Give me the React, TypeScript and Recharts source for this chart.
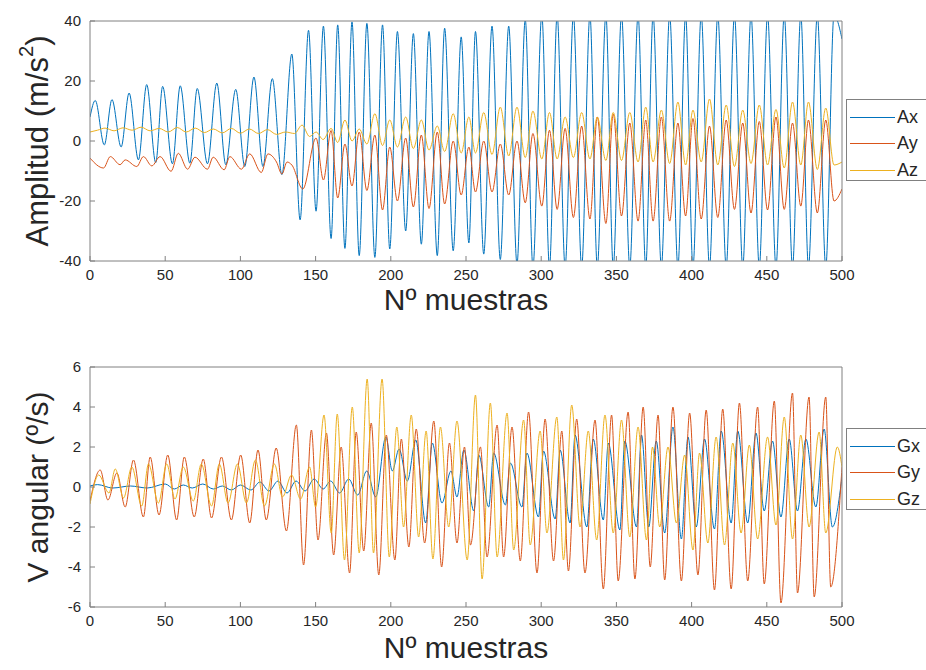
import { LineChart, Line, XAxis, YAxis } from "recharts";

type Pt = [number, number];

const sampleTicks = [0, 50, 100, 150, 200, 250, 300, 350, 400, 450, 500];
const accTicks = [-40, -20, 0, 20, 40];
const gyroTicks = [-6, -4, -2, 0, 2, 4, 6];

// acelerometro: [muestra, valor] en picos y valles
const axPts: Pt[] = [
  [0, 8], [3.5, 13.5], [9.5, -1.3], [14.6, 13.8], [20.7, -2], [26, 16], [32.2, -6.3], [37.7, 18.8],
  [43.7, -7.2], [48.3, 18.2], [54.8, -7.6], [60, 18.4], [66.4, -7.4], [71.3, 17.5], [78.1, -7.6],
  [84.3, 19.3], [90.3, -7.9], [96.9, 17.2], [102.9, -8.5], [109, 21.3], [115, -8.5], [121.2, 20.8],
  [127.6, -11.2], [134.2, 29], [139.7, -26.3], [145.3, 36.9], [150.3, -23.4], [155.2, 38.3],
  [160.3, -32.5], [164.7, 38.7], [169.5, -35.8], [174.2, 39.7], [179, -38.2], [184.1, 39.2],
  [189.4, -38.8], [194.5, 38.7], [199.3, -36], [204.4, 36.5], [209.9, -30], [215, 35.8],
  [220.3, -34.4], [225.4, 36.5], [230.9, -38.2], [235.8, 37.6], [241.5, -36.6], [246.8, 34.7],
  [251.9, -34], [256.3, 36.5], [261.8, -37.7], [267.3, 38.3], [272.8, -39.5], [278.4, 38.3],
  [283.9, -41], [289.4, 40.5], [294.5, -42], [300.4, 42], [305.5, -42], [310.6, 42], [315.9, -42],
  [321.4, 42], [326.9, -42], [332.4, 42], [337.3, -42], [343, 42], [347.9, -42], [353.4, 42],
  [358.9, -42], [364.4, 42], [369.5, -42], [374.4, 42], [379.9, -42], [385.4, 42], [390.9, -42],
  [396, 42], [400.9, -42], [406.4, 42], [411.9, -42], [417.4, 42], [423, -42], [428.5, 42],
  [434, -42], [439.5, 42], [445, -42], [450.5, 42], [456.1, -42], [461.6, 42], [467.1, -42],
  [472.6, 42], [477.7, -42], [483.6, 42], [489.2, -42], [494.7, 42], [500, 34],
];

const ayPts: Pt[] = [
  [0, -5.7], [9, -9], [13.5, -5.2], [20, -7.9], [23.4, -6.3], [31.1, -8.5], [35.5, -5.2],
  [41.1, -8.3], [46.6, -5.2], [53.9, -10.1], [58.7, -4.1], [64.9, -9.4], [69.8, -5.4], [78.1, -9.4],
  [81.9, -5.4], [89.2, -9.6], [93, -5.2], [100.7, -9.4], [106.2, -4.3], [113.9, -10.5], [118.3, -4.3],
  [124, -7], [127.6, -11], [131, -7], [134.2, -8], [141.5, -16], [150.3, 1], [155.2, -13],
  [160.3, 3.5], [164.7, -19], [169.5, -1], [174.2, -15], [179, 3], [184.1, -16.5], [189.4, 2],
  [194.5, -23], [199.3, -2], [204.4, -20], [209.9, 1], [215, -22], [220.3, 2], [225.4, -22.5],
  [230.9, 3], [235.8, -21], [241.5, 0], [246.8, -18], [251.9, -2], [256.3, -17], [261.8, 0],
  [267.3, -17], [272.8, -1], [278.4, -18], [283.9, 0], [289.4, -20.6], [294.5, 2.5], [300.4, -21.7],
  [305.5, 3.6], [310.6, -22.8], [315.9, 4.2], [321.4, -25.5], [326.9, 5], [332.4, -26], [337.3, 8],
  [343, -27.5], [347.9, 9], [353.4, -25], [358.9, 6], [364.4, -26.7], [369.5, 7], [374.4, -26.7],
  [379.9, 8], [385.4, -26.7], [390.9, 6], [396, -25], [400.9, 7.5], [406.4, -26], [411.9, 5],
  [417.4, -25.5], [423, 7], [428.5, -22.8], [434, 6], [439.5, -24], [445, 6.5], [450.5, -23],
  [456.1, 8], [461.6, -22.8], [467.1, 6], [472.6, -21.7], [477.7, 7], [483.6, -24], [489.2, 7],
  [494.7, -20], [500, -16],
];

const azPts: Pt[] = [
  [0, 3], [5, 3.6], [10, 4.3], [16, 3.4], [22, 4.4], [28, 3.6], [34, 4.6], [40, 3.4], [46, 4.2],
  [52, 3], [58, 4.5], [64, 3], [70, 4.3], [76, 2.8], [82, 4], [88, 2.7], [94, 4.2], [100, 2.6],
  [106, 4], [112, 2.5], [118, 3.8], [124, 2.2], [130, 3], [136, 2.5], [141, 5.3], [146, 1.5],
  [150.3, 3], [155, 0.5], [160.3, 4.2], [164.7, -0.5], [169.5, 7], [174.2, 0], [179, 4],
  [184.1, -1], [189.4, 9.1], [194.5, -1.5], [199.3, 7], [204.4, -2], [209.9, 8], [215, -2.5],
  [220.3, 7], [225.4, -3], [230.9, 5], [235.8, -3.5], [241.5, 9.1], [246.8, -4], [251.9, 8],
  [256.3, -4], [261.8, 9.5], [267.3, -4.5], [272.8, 11.3], [278.4, -5], [283.9, 11.3], [289.4, -5.5],
  [294.5, 10], [300.4, -6], [305.5, 9.5], [310.6, -6], [315.9, 8], [321.4, -5.5], [326.9, 9.5],
  [332.4, -6], [337.3, 8], [343, -6.5], [347.9, 9.5], [353.4, -6.5], [358.9, 9.5], [364.4, -7],
  [369.5, 11.3], [374.4, -7], [379.9, 10.3], [385.4, -7.5], [390.9, 13], [396, -8], [400.9, 10.3],
  [406.4, -7], [411.9, 14], [417.4, -8], [423, 12], [428.5, -8.5], [434, 10.3], [439.5, -7.5],
  [445, 12], [450.5, -8], [456.1, 10.5], [461.6, -9], [467.1, 13], [472.6, -8], [477.7, 13],
  [483.6, -9.5], [489.2, 11], [494.7, -8], [500, -7],
];

// giroscopo
const gxPts: Pt[] = [
  [0, 0.05], [5, 0.12], [15, -0.05], [27, 0.05], [38, -0.05], [50, 0.15], [56, -0.1], [62, 0.1],
  [68, -0.05], [75, 0.15], [82, -0.1], [88, 0.05], [94, -0.15], [100, 0.1], [107, -0.15],
  [113, 0.25], [119, -0.2], [125, 0.3], [131, -0.3], [137, 0.3], [143, -0.2], [149, 0.4],
  [155, -0.1], [160, 0.3], [166, -0.3], [172, 0.4], [178, -0.4], [184, 0.8], [190, -0.5],
  [196.7, 2.5], [201, 0.8], [205.5, 1.9], [211, 0.3], [216.6, 2.35], [223.2, -1.8], [227.6, 2.2],
  [234, -0.8], [240, 0.8], [244, -0.5], [248.6, 1.85], [255.2, -1.2], [258.5, 1.6], [265.1, -1],
  [268.4, 1.7], [276.2, -0.9], [279.5, 1.2], [287.2, -1], [290.5, 1.7], [298.2, -1.5], [301.5, 1.8],
  [309.3, -1.6], [312.6, 1.85], [319.2, -1.8], [322.5, 2.6], [330.3, -2], [334.6, 2.4],
  [341.3, -1.65], [344.6, 2.2], [352.3, -2.15], [355.6, 2.3], [363.4, -2], [366.7, 2.6],
  [371.5, -2], [376.5, 2.3], [382.1, -2.3], [387.6, 3], [393.2, -2.6], [397.6, 2.5], [403.1, -2],
  [408.6, 2.4], [415.2, -2.1], [419.7, 2.8], [426.3, -1.8], [430.7, 2.8], [437.3, -1.8],
  [442.8, 2.7], [448.3, -1.2], [453.8, 2.3], [459.4, -1.5], [464.9, 2.4], [470.4, -1.2], [476, 2.4],
  [482.6, -1], [488.1, 2.9], [493.6, -2], [500, 0.5],
];

const gyPts: Pt[] = [
  [0, -0.7], [6.8, 0.85], [11.9, -0.65], [17.9, 0.7], [23.4, -1], [28.9, 1.35], [35.5, -1.5],
  [40, 1.5], [45.9, -1.4], [51.7, 1.6], [57.6, -1.65], [62.7, 1.5], [69.3, -1.5], [75.3, 1.4],
  [80.8, -1.55], [87.4, 1.5], [94, -1.65], [100.2, 1.6], [106.2, -1.8], [111.7, 1.85],
  [117.2, -1.65], [123.8, 1.95], [130.6, -2.2], [137.2, 3.1], [142, -3.9], [147.2, 2.85],
  [151.6, -2.65], [157.2, 2.7], [162, -3.4], [167, 2], [172.6, -4.3], [177, 2.75], [182, -3.2],
  [187, 3.2], [192, -4.4], [197, 2.6], [202.7, -3.65], [207, 2.4], [212, -3], [216.9, 2.9],
  [222.5, -2.8], [228.6, 3.3], [233.8, -4], [239, 2.2], [244, -2.8], [249, 2], [253, -2.9],
  [259.6, 2], [264, -3.5], [270.7, 3.1], [275, -3.5], [280.6, 3], [286.1, -3.7], [291.6, 3.75],
  [297.2, -4.3], [302.6, 3.4], [308.2, -3.7], [313.7, 2.8], [318.1, -4.2], [323.6, 3.4],
  [329.1, -4.3], [335.8, 3.35], [341.3, -5.1], [346.8, 3.6], [351.2, -4.7], [357.8, 3.75],
  [362.3, -4.6], [367.8, 4], [372.5, -4], [377.7, 3.6], [382.1, -4.65], [387.6, 4], [393.2, -4.7],
  [398.7, 3.7], [404.2, -4.4], [409.7, 3.85], [415.2, -5.15], [420.7, 3.9], [426.3, -5.1],
  [431.8, 4.2], [437.3, -4.7], [443.9, 4], [448.3, -4.85], [455, 4.3], [459.4, -5.8], [467.1, 4.7],
  [470.4, -5.3], [478.1, 4.5], [481.5, -5.5], [489.2, 4.5], [492.5, -5], [500, 1],
];

const gzPts: Pt[] = [
  [0, -0.85], [5.8, 0.6], [12.6, -0.3], [16.8, 0.9], [22.3, -0.55], [27.8, 1], [34.4, -0.95],
  [38.9, 1.15], [45.5, -0.8], [51, 1.15], [56.5, -0.6], [62, 1], [68.7, -0.7], [74, 1.15],
  [80.8, -0.95], [86, 1.15], [91.8, -0.8], [98, 1.15], [104, -0.8], [110, 1.35], [116, -0.95],
  [122.6, 1.15], [128, -0.5], [134, 0.6], [140, -0.6], [146, 1], [150, -1], [155.6, 3.6],
  [160.4, -2.3], [164.4, 3.65], [169.2, -3.65], [174.4, 4], [179, -3.3], [184.3, 5.4],
  [188.5, -3.3], [194.2, 5.4], [199, -3.5], [204, 3], [208.5, -2], [213.6, 3.6], [218.5, -2.5],
  [223.5, 2.8], [228, -3.6], [233, 3], [238.5, -2], [244, 3.3], [250.8, -3.65], [256.3, 4.6],
  [260.7, -4.6], [266.2, 4.2], [270.7, -3.5], [277.3, 3.7], [281.7, -3.15], [288.3, 3.35],
  [292.7, -2.9], [299.3, 2.8], [303.8, -2.3], [310.4, 3.5], [314.8, -3.65], [320.3, 4.1],
  [325.8, -2], [331.3, 2.8], [336.9, -2.65], [342.4, 3.6], [347.9, -2.3], [353.4, 3.35],
  [358.9, -2.5], [364.4, 3], [370, -2.65], [374, 2], [378.8, -2], [384.3, 2], [389.9, -1.8],
  [395.4, 1.6], [400.9, -3.15], [405.3, 1.7], [410.8, -2.8], [416.3, 2.5], [421.9, -2.9],
  [427.4, 2.2], [432.9, -2.3], [438.4, 2.1], [443.9, -2.6], [450.5, 2.5], [456.1, -1.9],
  [461.6, 3.5], [467.1, -2.6], [472.6, 2.6], [478.1, -2], [484.8, 2.75], [489.2, -2.3],
  [496.9, 2], [500, 1],
];

const accNames = ["Ax", "Ay", "Az"];
const gyroNames = ["Gx", "Gy", "Gz"];

const BLUE = "#0072BD";
const ORANGE = "#D95319";
const YELLOW = "#EDB120";
const colors = [BLUE, ORANGE, YELLOW];
const AXIS = "#808080";
const TEXT = "#262626";
const FONT = '"Liberation Sans", Arial, Helvetica, sans-serif';

const toRows = (pts: Pt[]) => pts.map(([x, y]) => ({ x, y }));

function Panel({ top, height, margin, yDomain, yTicks, series }: any) {
  const tickStyle = { fill: TEXT, fontSize: 15, fontFamily: FONT };
  return (
    <div style={{ position: "absolute", left: 0, top }}>
      <LineChart width={926} height={height} margin={margin}>
        <XAxis
          xAxisId="b"
          type="number"
          dataKey="x"
          domain={[0, 500]}
          ticks={sampleTicks}
          interval={0}
          allowDataOverflow
          height={30}
          stroke={AXIS}
          tickSize={-5}
          tickMargin={13}
          tick={tickStyle}
        />
        <XAxis
          xAxisId="t"
          orientation="top"
          type="number"
          dataKey="x"
          domain={[0, 500]}
          ticks={sampleTicks}
          interval={0}
          height={1}
          stroke={AXIS}
          tickSize={-5}
          tick={false}
        />
        <YAxis
          yAxisId="l"
          type="number"
          domain={yDomain}
          ticks={yTicks}
          interval={0}
          allowDataOverflow
          width={60}
          stroke={AXIS}
          tickSize={-5}
          tickMargin={14}
          tick={tickStyle}
        />
        <YAxis
          yAxisId="r"
          orientation="right"
          type="number"
          domain={yDomain}
          ticks={yTicks}
          interval={0}
          width={1}
          stroke={AXIS}
          tickSize={-5}
          tick={false}
        />
        {series.map((pts: Pt[], i: number) => (
          <Line
            key={i}
            xAxisId="b"
            yAxisId="l"
            data={toRows(pts)}
            dataKey="y"
            type="monotone"
            stroke={colors[i]}
            strokeWidth={1}
            dot={false}
            isAnimationActive={false}
          />
        ))}
      </LineChart>
    </div>
  );
}

function LegendBox({ top, names }: { top: number; names: string[] }) {
  return (
    <div
      style={{
        position: "absolute",
        left: 846,
        top,
        width: 100,
        height: 82,
        border: `1px solid ${AXIS}`,
        background: "#fff",
        boxSizing: "border-box",
      }}
    >
      {names.map((n, i) => (
        <div
          key={n}
          style={{
            position: "absolute",
            left: 3,
            top: 6 + i * 26.5,
            height: 22,
            display: "flex",
            alignItems: "center",
          }}
        >
          <div style={{ width: 45, height: 1, background: colors[i] }} />
          <span style={{ marginLeft: 2, fontFamily: FONT, fontSize: 18, color: TEXT }}>{n}</span>
        </div>
      ))}
    </div>
  );
}

const titleStyle: any = {
  position: "absolute",
  fontFamily: FONT,
  fontSize: 30,
  color: TEXT,
  whiteSpace: "nowrap",
  textAlign: "center",
  lineHeight: "30px",
};

export default function App() {
  return (
    <div
      style={{
        position: "absolute",
        left: 0,
        top: 0,
        width: 926,
        height: 670,
        background: "#fff",
        overflow: "hidden",
      }}
    >
      <Panel
        top={0}
        height={340}
        margin={{ top: 20, right: 83, bottom: 49, left: 30 }}
        yDomain={[-40, 40]}
        yTicks={accTicks}
        series={[axPts, ayPts, azPts]}
      />
      <Panel
        top={340}
        height={330}
        margin={{ top: 26, right: 83, bottom: 33, left: 30 }}
        yDomain={[-6, 6]}
        yTicks={gyroTicks}
        series={[gxPts, gyPts, gzPts]}
      />
      <LegendBox top={99} names={accNames} />
      <LegendBox top={428} names={gyroNames} />

      <div style={{ ...titleStyle, left: 266, width: 400, top: 285 }}>Nº muestras</div>
      <div style={{ ...titleStyle, left: 266, width: 400, top: 633 }}>Nº muestras</div>
      <div
        style={{
          ...titleStyle,
          fontSize: 31,
          left: 38 - 200,
          width: 400,
          top: 141 - 15,
          transform: "rotate(-90deg)",
        }}
      >
        Amplitud (m/s<sup style={{ fontSize: "0.65em", verticalAlign: "0.75em", lineHeight: 0 }}>2</sup>)
      </div>
      <div
        style={{
          ...titleStyle,
          left: 38 - 200,
          width: 400,
          top: 487 - 15,
          transform: "rotate(-90deg)",
        }}
      >
        V angular (º/s)
      </div>
    </div>
  );
}
